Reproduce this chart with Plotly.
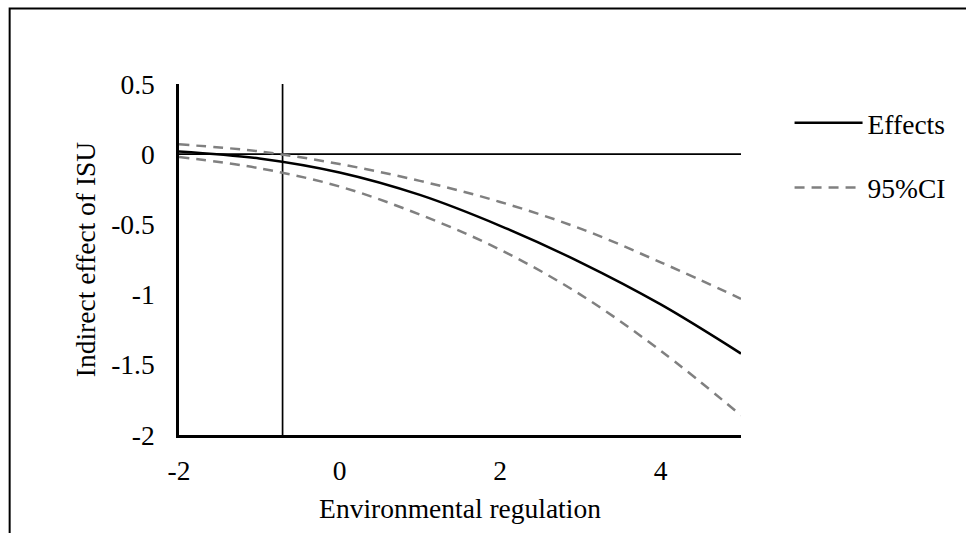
import plotly.graph_objects as go

# Data
x_vals = [-2, -1, 0, 1, 2, 3, 4, 5]
effects = [0.02, -0.03, -0.13, -0.29, -0.51, -0.77, -1.07, -1.42]
ci_upper = [0.07, 0.02, -0.07, -0.19, -0.34, -0.53, -0.77, -1.03]
ci_lower = [-0.02, -0.10, -0.23, -0.43, -0.68, -1.00, -1.40, -1.86]
jn_point = -0.71
x_range = [-2, 5]
y_range = [-2, 0.5]
x_ticks = [-2, 0, 2, 4]
y_ticks = [0.5, 0, -0.5, -1, -1.5, -2]
y_tick_text = ["0.5", "0", "-0.5", "-1", "-1.5", "-2"]

FONT = "Liberation Serif"
W, H = 966, 533
L, R, T, B = 178.5, 225, 83.5, 98

fig = go.Figure()

# reference lines
fig.add_trace(go.Scatter(x=x_range, y=[0, 0], mode="lines",
                         line=dict(color="black", width=1.7),
                         showlegend=False, hoverinfo="skip"))
fig.add_trace(go.Scatter(x=[jn_point, jn_point], y=y_range, mode="lines",
                         line=dict(color="black", width=1.7),
                         showlegend=False, hoverinfo="skip"))

fig.add_trace(go.Scatter(x=x_vals, y=effects, mode="lines", name="Effects",
                         line=dict(color="black", width=2.5, shape="spline"),
                         legendgroup="a"))
fig.add_trace(go.Scatter(x=x_vals, y=ci_upper, mode="lines", name="95%CI",
                         line=dict(color="#808080", width=2.5, dash="10px,7px", shape="spline"),
                         legendgroup="b"))
fig.add_trace(go.Scatter(x=x_vals, y=ci_lower, mode="lines", name="95%CI",
                         line=dict(color="#808080", width=2.5, dash="10px,7px", shape="spline"),
                         legendgroup="b", showlegend=False))

pw = W - L - R
ph = H - T - B
# outer chart border (extends beyond the visible area)
fig.add_shape(type="rect", xref="paper", yref="paper",
              x0=(9 - L) / pw, x1=(W + 20 - L) / pw,
              y0=-(H + 20 - (H - B)) / ph, y1=((H - B) - 8) / ph,
              line=dict(color="black", width=2), fillcolor="rgba(0,0,0,0)", layer="below")

fig.update_layout(
    width=W, height=H,
    margin=dict(l=L, r=R, t=T, b=B, pad=0),
    paper_bgcolor="white", plot_bgcolor="white",
    font=dict(family=FONT, size=27.5, color="black"),
    showlegend=True,
    legend=dict(x=1.0864, y=0.959, xanchor="left", yanchor="top",
                tracegroupgap=26, bgcolor="rgba(0,0,0,0)",
                font=dict(family=FONT, size=27.5, color="black"),
                itemwidth=68),
    xaxis=dict(range=x_range, tickvals=x_ticks, ticktext=[str(v) for v in x_ticks],
               showgrid=False, zeroline=False, showline=True, linecolor="black",
               linewidth=2.5, ticks="", ticklabelstandoff=9,
               title=dict(text="Environmental regulation", standoff=14,
                          font=dict(family=FONT, size=27.5, color="black")),
               automargin=False, fixedrange=True),
    yaxis=dict(range=y_range, tickvals=y_ticks, ticktext=y_tick_text,
               showgrid=False, zeroline=False, showline=True, linecolor="black",
               linewidth=2.5, ticks="", ticklabelstandoff=16,
               title=dict(text="Indirect effect of ISU", standoff=8,
                          font=dict(family=FONT, size=27.5, color="black")),
               automargin=False, fixedrange=True),
)

fig.write_html("out.html")
